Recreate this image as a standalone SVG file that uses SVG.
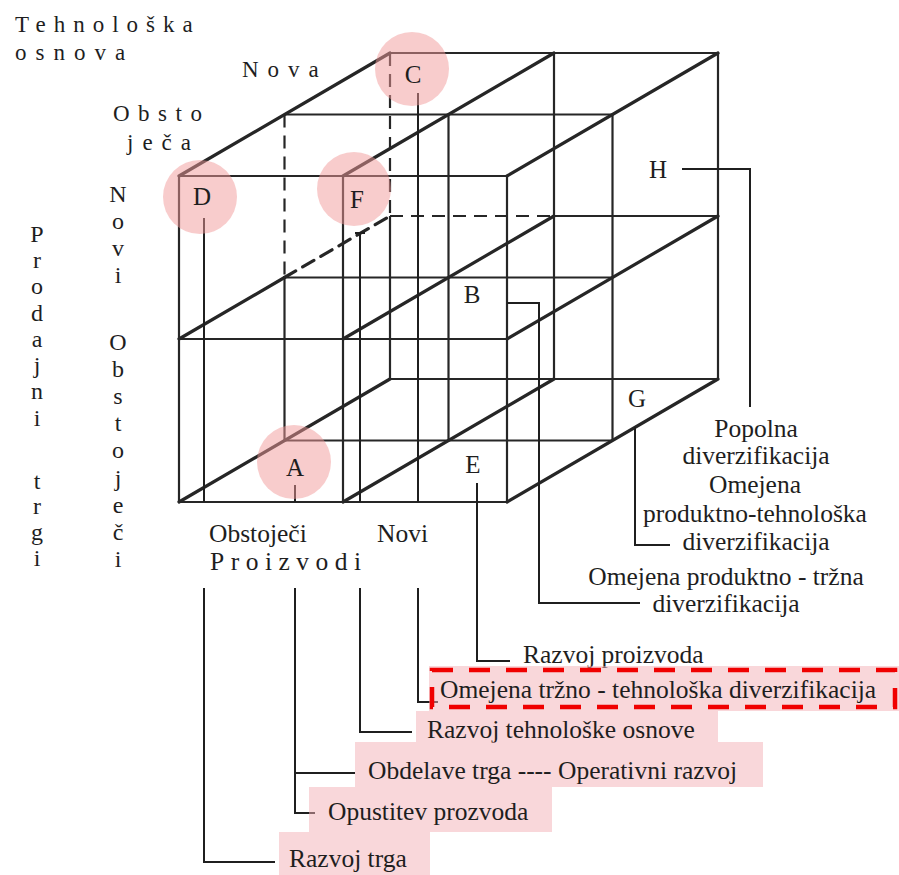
<svg xmlns="http://www.w3.org/2000/svg" width="899" height="875" viewBox="0 0 899 875">
  <style>
    .e { stroke: #262626; stroke-width: 2.2; fill: none; }
    .o { stroke: #262626; stroke-width: 3.2; fill: none; stroke-linecap: round; }
    .hid { stroke-dasharray: 13 8; }
    .ld { stroke: #1f1f1f; stroke-width: 2; fill: none; }
    .t { font-family: "Liberation Serif", "Times New Roman", serif; font-size: 25.5px; fill: #1e1e1e; }
    .c { text-anchor: middle; }
    .ax { font-size: 23px; }
    .v { font-size: 24px; text-anchor: middle; }
    .k { font-size: 25px; text-anchor: middle; }
    .spot { fill: #f29a9a; opacity: 0.5; }
    .hl { fill: #f4b0b6; opacity: 0.5; }
    .mark { fill: none; stroke: #f00000; stroke-width: 4.5; stroke-dasharray: 21 16; }
  </style>

  <rect x="0" y="0" width="899" height="875" fill="#ffffff"/>

  <!-- 2x2x2 cube wireframe: front face, middle plane, back face -->
  <g id="cube">
    <!-- horizontal edges -->
    <path class="e" d="M179 176H507 M179 339H507 M179 502H507"/>
    <path class="e" d="M284.5 114.5H612.5 M284.5 277.5H612.5 M284.5 440.5H612.5"/>
    <path class="e" d="M390 53H718 M553 216H718 M390 379H718"/>
    <path class="e hid" d="M390 216H553"/>
    <!-- vertical edges -->
    <path class="e" d="M179 176V502 M343 176V502 M507 176V502"/>
    <path class="e" d="M284.5 277.5V440.5 M448.5 114.5V440.5 M612.5 114.5V440.5"/>
    <path class="e hid" d="M284.5 114.5V277.5"/>
    <path class="e" d="M390 216V379 M554 53V379 M718 53V379"/>
    <path class="e hid" d="M390 53V216"/>
    <!-- depth edges -->
    <path class="o" d="M179 176L390 53 M179 502L390 379"/>
    <path class="o" d="M179 339L284.5 277.5"/>
    <path class="o hid" d="M284.5 277.5L390 216" stroke-linecap="butt"/>
    <path class="o" d="M343 176L554 53 M343 339L554 216 M343 502L554 379"/>
    <path class="o" d="M507 176L718 53 M507 339L718 216 M507 502L718 379"/>
  </g>

  <!-- leader lines from the cells to their labels -->
  <g id="connectors">
    <path class="ld" d="M204 218V502 M204 588V862H275"/>
    <path class="ld" d="M295 485V502 M295 588V813H315 M295 773H355"/>
    <path class="ld" d="M355 233H365 M360 233V502 M360 588V732H412"/>
    <path class="ld" d="M418 93V502 M418 588V702H438"/>
    <path class="ld" d="M477 483V661H510"/>
    <path class="ld" d="M507 303H539V603H640"/>
    <path class="ld" d="M635 427V545H670"/>
    <path class="ld" d="M682 169H750V407"/>
  </g>

  <!-- axis titles -->
  <g id="axis-technology">
    <text class="t ax" x="15" y="32" letter-spacing="8">Tehnološka</text>
    <text class="t ax" x="15" y="60" letter-spacing="9">osnova</text>
    <text class="t ax" x="242" y="77" letter-spacing="9">Nova</text>
    <text class="t ax" x="113" y="121" letter-spacing="8.5">Obsto</text>
    <text class="t ax" x="127" y="150" letter-spacing="9">ječa</text>
  </g>
  <g id="axis-markets">
    <text class="t v">
      <tspan x="37" y="242">P</tspan><tspan x="37" y="268">r</tspan><tspan x="37" y="294">o</tspan><tspan x="37" y="321">d</tspan><tspan x="37" y="347">a</tspan><tspan x="37" y="373">j</tspan><tspan x="37" y="399">n</tspan><tspan x="37" y="426">i</tspan><tspan x="37" y="489">t</tspan><tspan x="37" y="514">r</tspan><tspan x="37" y="540">g</tspan><tspan x="37" y="566">i</tspan>
    </text>
    <text class="t v">
      <tspan x="118" y="202">N</tspan><tspan x="118" y="229">o</tspan><tspan x="118" y="256">v</tspan><tspan x="118" y="283">i</tspan><tspan x="118" y="350">O</tspan><tspan x="118" y="377">b</tspan><tspan x="118" y="404">s</tspan><tspan x="118" y="431">t</tspan><tspan x="118" y="458">o</tspan><tspan x="118" y="486">j</tspan><tspan x="118" y="513">e</tspan><tspan x="118" y="540">č</tspan><tspan x="118" y="567">i</tspan>
    </text>
  </g>
  <g id="axis-products">
    <text class="t" x="209" y="542">Obstoječi</text>
    <text class="t" x="377" y="542">Novi</text>
    <text class="t" x="210" y="570" letter-spacing="6.5">Proizvodi</text>
  </g>

  <!-- cells -->
  <g id="cell-D"><circle class="spot" cx="200" cy="197" r="37"/><text class="t k" x="202" y="205">D</text></g>
  <g id="cell-C"><circle class="spot" cx="412" cy="69" r="37"/><text class="t k" x="413" y="83">C</text></g>
  <g id="cell-F"><circle class="spot" cx="354" cy="189" r="37"/><text class="t k" x="357" y="208">F</text></g>
  <g id="cell-A"><circle class="spot" cx="294" cy="462" r="37"/><text class="t k" x="295" y="476">A</text></g>
  <g id="cell-H"><text class="t k" x="658" y="178">H</text></g>
  <g id="cell-B"><text class="t k" x="472" y="303">B</text></g>
  <g id="cell-E"><text class="t k" x="473" y="473">E</text></g>
  <g id="cell-G"><text class="t k" x="637" y="407">G</text></g>

  <!-- strategy labels -->
  <g id="label-popolna">
    <text class="t c" x="756" y="437">Popolna</text>
    <text class="t c" x="756" y="464">diverzifikacija</text>
  </g>
  <g id="label-produktno-tehnoloska">
    <text class="t c" x="755" y="493">Omejena</text>
    <text class="t c" x="755" y="522">produktno-tehnološka</text>
    <text class="t c" x="756" y="550">diverzifikacija</text>
  </g>
  <g id="label-produktno-trzna">
    <text class="t c" x="726" y="585">Omejena produktno - tržna</text>
    <text class="t c" x="726" y="612">diverzifikacija</text>
  </g>
  <g id="label-razvoj-proizvoda">
    <text class="t" x="523" y="663">Razvoj proizvoda</text>
  </g>
  <g id="label-trzno-tehnoloska">
    <rect class="hl" x="429" y="666" width="470" height="45"/>
    <rect class="mark" x="432" y="670" width="463" height="37"/>
    <text class="t" x="440" y="698">Omejena tržno - tehnološka diverzifikacija</text>
  </g>
  <g id="label-tehnoloske-osnove">
    <rect class="hl" x="416" y="711" width="302" height="31"/>
    <text class="t" x="427" y="738">Razvoj tehnološke osnove</text>
  </g>
  <g id="label-obdelave-trga">
    <rect class="hl" x="355" y="742" width="408" height="45"/>
    <text class="t" x="368" y="779">Obdelave trga ---- Operativni razvoj</text>
  </g>
  <g id="label-opustitev">
    <rect class="hl" x="309" y="787" width="243" height="45"/>
    <text class="t" x="328" y="820">Opustitev prozvoda</text>
  </g>
  <g id="label-razvoj-trga">
    <rect class="hl" x="279" y="832" width="151" height="43"/>
    <text class="t" x="289" y="867">Razvoj trga</text>
  </g>
</svg>
